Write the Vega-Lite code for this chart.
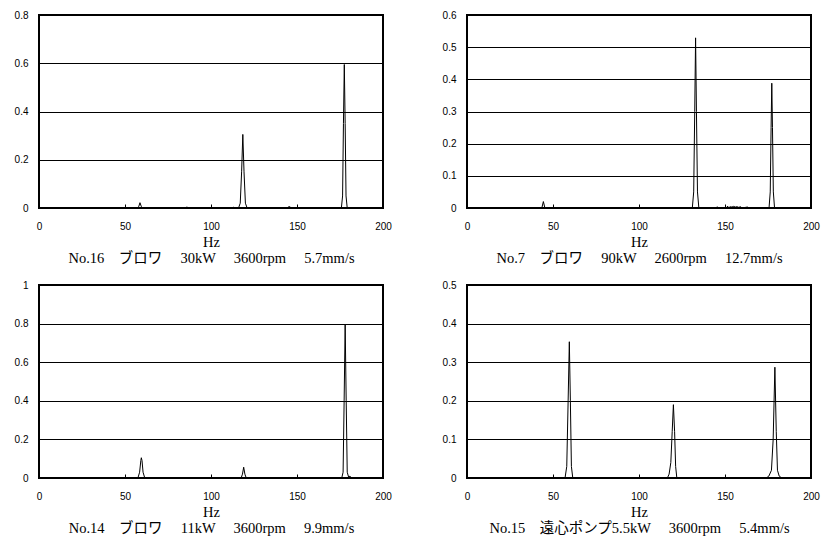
{
  "$schema": "https://vega.github.io/schema/vega-lite/v6.json",
  "background": "white",
  "autosize": {"type": "pad"},
  "padding": {"left": 13, "top": 9, "right": 2, "bottom": 2},
  "bounds": "flush",
  "columns": 2,
  "spacing": {"row": 77, "column": 84},
  "config": {
    "view": {"stroke": "black", "strokeWidth": 2},
    "line": {"color": "black", "strokeWidth": 1, "interpolate": "linear"},
    "axis": {
      "labelFont": "Liberation Sans",
      "labelFontSize": 10,
      "labelColor": "black",
      "titleFont": "Liberation Serif, Noto Sans CJK JP",
      "titleFontSize": 14.5,
      "titleFontWeight": "normal",
      "titleColor": "black"
    },
    "axisX": {
      "grid": false,
      "domain": false,
      "tickColor": "black",
      "tickWidth": 1,
      "tickSize": -4,
      "labelPadding": 17,
      "labelFlush": false,
      "labelAngle": 0,
      "titleLineHeight": 16.5,
      "titlePadding": 4
    },
    "axisY": {
      "domain": false,
      "ticks": false,
      "grid": true,
      "gridColor": "black",
      "gridWidth": 1,
      "gridOpacity": 1,
      "labelPadding": 11,
      "title": null
    }
  },
  "datasets": {
    "p16": [
      {"hz": 0, "v": 0}, {"hz": 57, "v": 0}, {"hz": 58, "v": 0.006}, {"hz": 58.7, "v": 0.022}, {"hz": 59.5, "v": 0.006}, {"hz": 60.5, "v": 0},
      {"hz": 85.5, "v": 0}, {"hz": 86, "v": 0.005}, {"hz": 86.7, "v": 0},
      {"hz": 112.5, "v": 0}, {"hz": 113, "v": 0.003}, {"hz": 113.5, "v": 0},
      {"hz": 116, "v": 0}, {"hz": 117, "v": 0.02}, {"hz": 117.8, "v": 0.15}, {"hz": 118.5, "v": 0.305}, {"hz": 119.2, "v": 0.15}, {"hz": 120, "v": 0.02}, {"hz": 121, "v": 0},
      {"hz": 144.5, "v": 0}, {"hz": 145, "v": 0.005}, {"hz": 146, "v": 0.005}, {"hz": 146.5, "v": 0},
      {"hz": 172.5, "v": 0}, {"hz": 173, "v": 0.004}, {"hz": 173.5, "v": 0},
      {"hz": 175.8, "v": 0}, {"hz": 176.5, "v": 0.05}, {"hz": 177, "v": 0.35}, {"hz": 177.5, "v": 0.595}, {"hz": 178, "v": 0.35}, {"hz": 178.5, "v": 0.05}, {"hz": 179.2, "v": 0},
      {"hz": 200, "v": 0}
    ],
    "p7": [
      {"hz": 0, "v": 0}, {"hz": 43.5, "v": 0}, {"hz": 44.4, "v": 0.02}, {"hz": 45.3, "v": 0},
      {"hz": 88, "v": 0}, {"hz": 88.3, "v": 0.003}, {"hz": 88.8, "v": 0},
      {"hz": 131, "v": 0}, {"hz": 131.8, "v": 0.05}, {"hz": 132.4, "v": 0.3}, {"hz": 132.9, "v": 0.529}, {"hz": 133.4, "v": 0.3}, {"hz": 134, "v": 0.05}, {"hz": 134.8, "v": 0},
      {"hz": 145, "v": 0}, {"hz": 145.5, "v": 0.004}, {"hz": 146, "v": 0},
      {"hz": 151, "v": 0}, {"hz": 151.5, "v": 0.006}, {"hz": 152, "v": 0}, {"hz": 153, "v": 0.004}, {"hz": 154, "v": 0.003}, {"hz": 155, "v": 0.005}, {"hz": 156, "v": 0.003}, {"hz": 157, "v": 0.004}, {"hz": 158, "v": 0.002}, {"hz": 159, "v": 0.004}, {"hz": 160, "v": 0}, {"hz": 163, "v": 0.003}, {"hz": 164, "v": 0},
      {"hz": 175.6, "v": 0}, {"hz": 176.3, "v": 0.05}, {"hz": 176.8, "v": 0.25}, {"hz": 177.2, "v": 0.388}, {"hz": 177.6, "v": 0.25}, {"hz": 178.1, "v": 0.05}, {"hz": 178.8, "v": 0},
      {"hz": 200, "v": 0}
    ],
    "p14": [
      {"hz": 0, "v": 0}, {"hz": 57.5, "v": 0}, {"hz": 58.5, "v": 0.03}, {"hz": 59.2, "v": 0.09}, {"hz": 59.5, "v": 0.105}, {"hz": 59.9, "v": 0.09}, {"hz": 60.5, "v": 0.03}, {"hz": 61.5, "v": 0},
      {"hz": 117.5, "v": 0}, {"hz": 118.3, "v": 0.02}, {"hz": 119, "v": 0.056}, {"hz": 119.7, "v": 0.02}, {"hz": 120.5, "v": 0},
      {"hz": 176, "v": 0}, {"hz": 176.8, "v": 0.03}, {"hz": 177.4, "v": 0.4}, {"hz": 178, "v": 0.795}, {"hz": 178.6, "v": 0.4}, {"hz": 179.2, "v": 0.03}, {"hz": 180, "v": 0.005}, {"hz": 180.8, "v": 0.01}, {"hz": 181.5, "v": 0},
      {"hz": 200, "v": 0}
    ],
    "p15": [
      {"hz": 0, "v": 0}, {"hz": 57, "v": 0}, {"hz": 58, "v": 0.03}, {"hz": 58.8, "v": 0.2}, {"hz": 59.5, "v": 0.353}, {"hz": 60.1, "v": 0.2}, {"hz": 60.7, "v": 0.03}, {"hz": 61.5, "v": 0},
      {"hz": 116.5, "v": 0}, {"hz": 117.5, "v": 0.01}, {"hz": 118.5, "v": 0.04}, {"hz": 119.3, "v": 0.12}, {"hz": 120, "v": 0.19}, {"hz": 120.7, "v": 0.12}, {"hz": 121.3, "v": 0.03}, {"hz": 122, "v": 0},
      {"hz": 174, "v": 0}, {"hz": 175.5, "v": 0.005}, {"hz": 177, "v": 0.02}, {"hz": 178, "v": 0.1}, {"hz": 179, "v": 0.287}, {"hz": 179.8, "v": 0.12}, {"hz": 180.5, "v": 0.02}, {"hz": 181.5, "v": 0.005}, {"hz": 183, "v": 0},
      {"hz": 200, "v": 0}
    ]
  },
  "concat": [
    {
      "width": 344, "height": 193,
      "data": {"name": "p16"},
      "mark": {"type": "line", "clip": true},
      "encoding": {
        "x": {"field": "hz", "type": "quantitative", "scale": {"domain": [0, 200], "nice": false},
              "axis": {"values": [0, 50, 100, 150, 200], "format": "d", "title": ["Hz", "No.16　ブロワ　 30kW　 3600rpm　 5.7mm/s"]}},
        "y": {"field": "v", "type": "quantitative", "scale": {"domain": [0, 0.8], "nice": false},
              "axis": {"values": [0, 0.2, 0.4, 0.6, 0.8], "format": "~g"}}
      }
    },
    {
      "width": 344, "height": 193,
      "data": {"name": "p7"},
      "mark": {"type": "line", "clip": true},
      "encoding": {
        "x": {"field": "hz", "type": "quantitative", "scale": {"domain": [0, 200], "nice": false},
              "axis": {"values": [0, 50, 100, 150, 200], "format": "d", "title": ["Hz", "No.7　ブロワ　 90kW　 2600rpm　 12.7mm/s"]}},
        "y": {"field": "v", "type": "quantitative", "scale": {"domain": [0, 0.6], "nice": false},
              "axis": {"values": [0, 0.1, 0.2, 0.3, 0.4, 0.5, 0.6], "format": "~g"}}
      }
    },
    {
      "width": 344, "height": 193,
      "data": {"name": "p14"},
      "mark": {"type": "line", "clip": true},
      "encoding": {
        "x": {"field": "hz", "type": "quantitative", "scale": {"domain": [0, 200], "nice": false},
              "axis": {"values": [0, 50, 100, 150, 200], "format": "d", "title": ["Hz", "No.14　ブロワ　 11kW　 3600rpm　 9.9mm/s"]}},
        "y": {"field": "v", "type": "quantitative", "scale": {"domain": [0, 1], "nice": false},
              "axis": {"values": [0, 0.2, 0.4, 0.6, 0.8, 1], "format": "~g"}}
      }
    },
    {
      "width": 344, "height": 193,
      "data": {"name": "p15"},
      "mark": {"type": "line", "clip": true},
      "encoding": {
        "x": {"field": "hz", "type": "quantitative", "scale": {"domain": [0, 200], "nice": false},
              "axis": {"values": [0, 50, 100, 150, 200], "format": "d", "title": ["Hz", "No.15　遠心ポンプ5.5kW　 3600rpm　 5.4mm/s"]}},
        "y": {"field": "v", "type": "quantitative", "scale": {"domain": [0, 0.5], "nice": false},
              "axis": {"values": [0, 0.1, 0.2, 0.3, 0.4, 0.5], "format": "~g"}}
      }
    }
  ]
}
